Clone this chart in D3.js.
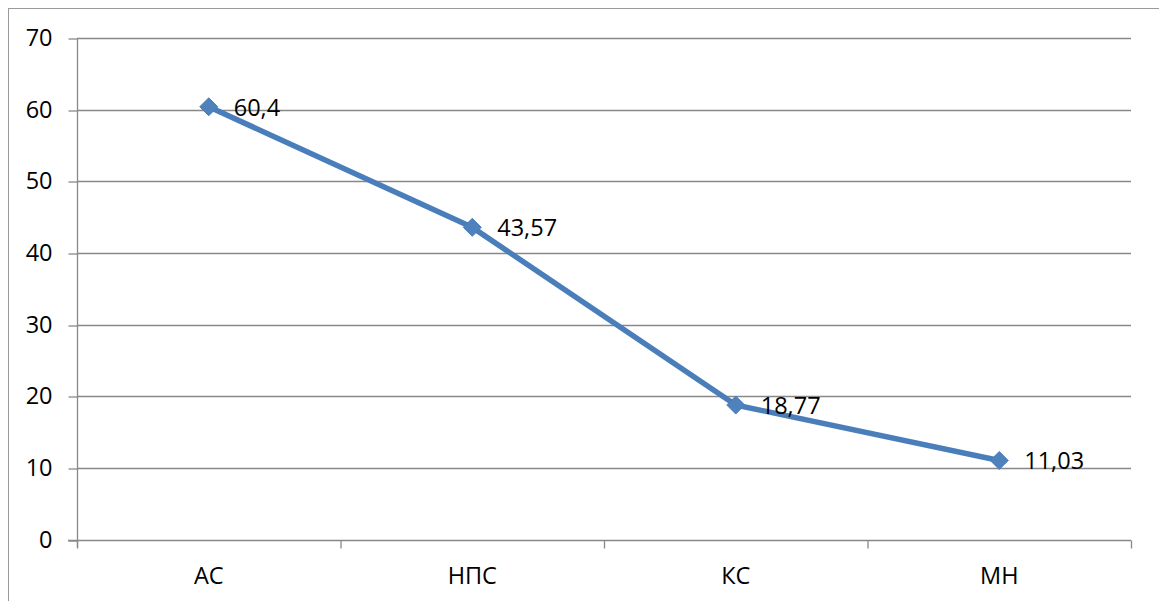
<!DOCTYPE html>
<html>
<head>
<meta charset="utf-8">
<script src="https://cdn.jsdelivr.net/npm/d3@7"></script>
<style>
  html, body { margin: 0; padding: 0; background: #fff; }
  svg { display: block; }
  text { font-family: "Open Sans", "Noto Sans", sans-serif; fill: #000; }
</style>
</head>
<body>
<svg id="chart" width="1159" height="601"></svg>
<script>
// Data
const categories = ["АС", "НПС", "КС", "МН"];
const values = [60.4, 43.57, 18.77, 11.03];
const valueLabels = ["60,4", "43,57", "18,77", "11,03"];
const yTicks = [0, 10, 20, 30, 40, 50, 60, 70];

const FONT = 23.5;
const svg = d3.select("#chart");
const plot = { left: 77, right: 1131, top: 38, bottom: 539.5 };

// Outer chart frame
svg.append("rect")
  .attr("x", 8.5).attr("y", 8.5)
  .attr("width", 1300).attr("height", 800)
  .attr("fill", "none").attr("stroke", "#9a9a9a").attr("stroke-width", 1);

const x = d3.scaleBand().domain(categories).range([plot.left, plot.right]).padding(0);
const y = d3.scaleLinear().domain([0, 70]).range([plot.bottom, plot.top]);

// Horizontal gridlines
svg.append("g")
  .selectAll("line")
  .data(yTicks.filter(d => d > 0))
  .join("line")
  .attr("x1", plot.left).attr("x2", plot.right)
  .attr("y1", d => Math.round(y(d)) + 0.5).attr("y2", d => Math.round(y(d)) + 0.5)
  .attr("stroke", "#888").attr("stroke-width", 1.3);

// Y axis
const yAxis = d3.axisLeft(y).tickValues(yTicks).tickSize(9).tickPadding(16).tickFormat(d3.format("d"));
const gy = svg.append("g").attr("transform", `translate(${plot.left + 0.5},0)`).call(yAxis);
gy.select(".domain").attr("stroke", "#888").attr("stroke-width", 1.3)
  .attr("d", `M0,${plot.top}V${plot.bottom + 8}`);
gy.selectAll(".tick line").attr("stroke", "#888").attr("stroke-width", 1.3)
  .attr("transform", d => `translate(0,${Math.round(y(d)) + 0.5 - y(d)})`);
gy.selectAll(".tick text").attr("font-size", FONT).attr("font-family", "Open Sans, Noto Sans, sans-serif").attr("fill", "#000");

// X axis with ticks at category boundaries
const gx = svg.append("g").attr("transform", `translate(0,${Math.round(plot.bottom) + 0.5})`);
gx.append("line")
  .attr("x1", plot.left - 9).attr("x2", plot.right)
  .attr("stroke", "#888").attr("stroke-width", 1.3);
const boundaries = categories.map(c => x(c)).concat([x(categories[categories.length - 1]) + x.bandwidth()]);
gx.selectAll("line.tick")
  .data(boundaries)
  .join("line")
  .attr("class", "tick")
  .attr("x1", d => d + 0.5).attr("x2", d => d + 0.5)
  .attr("y1", 0).attr("y2", 8)
  .attr("stroke", "#888").attr("stroke-width", 1.3);
gx.selectAll("text")
  .data(categories)
  .join("text")
  .attr("x", d => x(d) + x.bandwidth() / 2)
  .attr("y", 43)
  .attr("text-anchor", "middle")
  .attr("font-size", FONT)
  .text(d => d);

// Series line
const pts = categories.map((c, i) => ({ c, v: values[i], label: valueLabels[i] }));
const line = d3.line().x(d => x(d.c) + x.bandwidth() / 2).y(d => y(d.v));
svg.append("path")
  .datum(pts)
  .attr("d", line)
  .attr("fill", "none")
  .attr("stroke", "#4a7ebb")
  .attr("stroke-width", 5.5)
  .attr("stroke-linejoin", "round");

// Diamond markers
const r = 9;
svg.append("g")
  .selectAll("path")
  .data(pts)
  .join("path")
  .attr("transform", d => `translate(${x(d.c) + x.bandwidth() / 2},${y(d.v)})`)
  .attr("d", `M0,${-r}L${r},0L0,${r}L${-r},0Z`)
  .attr("fill", "#4f81bd")
  .attr("stroke", "#4a7ebb")
  .attr("stroke-width", 1);

// Value labels
svg.append("g")
  .selectAll("text")
  .data(pts)
  .join("text")
  .attr("x", d => x(d.c) + x.bandwidth() / 2 + 25)
  .attr("y", d => y(d.v))
  .attr("dy", "0.38em")
  .attr("font-size", FONT)
  .text(d => d.label);
</script>
</body>
</html>
